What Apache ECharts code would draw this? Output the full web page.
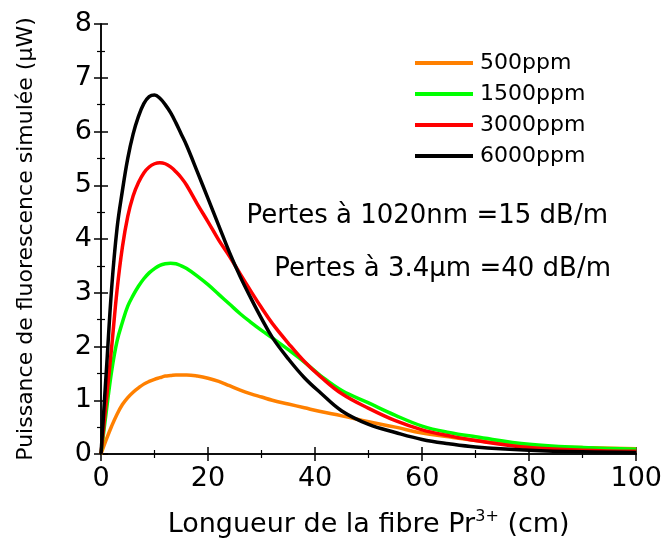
<!DOCTYPE html>
<html>
<head>
<meta charset="utf-8">
<script src="https://cdn.jsdelivr.net/npm/echarts@6/dist/echarts.min.js"></script>
<style>
html, body { margin: 0; padding: 0; background: #fff; }
#chart { width: 665px; height: 543px; }
</style>
</head>
<body>
<div id="chart"></div>
<script>
//longueur de fibre (cm)
var xs = [0, 1, 2, 3, 4, 5, 6, 7, 8, 9, 10, 11, 12, 13, 14, 15, 16, 18, 20, 22, 24, 26, 28, 30, 32, 35, 38, 41, 45, 50, 55, 60, 65, 70, 80, 90, 100];
//puissance (uW) pour chaque concentration
var p500 = [0, 0.27, 0.52, 0.74, 0.92, 1.05, 1.15, 1.23, 1.3, 1.35, 1.39, 1.42, 1.45, 1.46, 1.47, 1.47, 1.47, 1.45, 1.41, 1.35, 1.27, 1.19, 1.12, 1.06, 1.0, 0.93, 0.86, 0.79, 0.71, 0.6, 0.5, 0.39, 0.32, 0.25, 0.15, 0.12, 0.1];
var p1500 = [0, 0.8, 1.55, 2.1, 2.45, 2.75, 2.95, 3.12, 3.26, 3.37, 3.45, 3.51, 3.54, 3.55, 3.54, 3.5, 3.45, 3.31, 3.15, 2.97, 2.79, 2.61, 2.45, 2.3, 2.16, 1.94, 1.71, 1.46, 1.18, 0.95, 0.72, 0.52, 0.4, 0.32, 0.18, 0.12, 0.09];
var p3000 = [0, 1.0, 2.0, 3.05, 3.85, 4.42, 4.8, 5.05, 5.23, 5.34, 5.4, 5.42, 5.4, 5.34, 5.25, 5.14, 5.0, 4.65, 4.32, 3.98, 3.68, 3.35, 3.03, 2.72, 2.43, 2.06, 1.72, 1.44, 1.12, 0.85, 0.62, 0.45, 0.34, 0.25, 0.12, 0.07, 0.05];
var p6000 = [0, 1.55, 3.1, 4.2, 4.9, 5.5, 5.95, 6.28, 6.52, 6.65, 6.68, 6.62, 6.5, 6.35, 6.16, 5.95, 5.74, 5.25, 4.75, 4.25, 3.75, 3.3, 2.9, 2.52, 2.17, 1.77, 1.42, 1.14, 0.8, 0.55, 0.4, 0.27, 0.19, 0.13, 0.07, 0.04, 0.03];
var names = ['500ppm', '1500ppm', '3000ppm', '6000ppm'];
var colors = ['#ff8000', '#00ff00', '#ff0000', '#000000'];

function pairs(ys) {
	var out = [];
	for(var i = 0; i < xs.length; i++) {
		out.push([xs[i], ys[i]]);
	}
	return out
}

var font = 'DejaVu Sans';
var axLine = { show: true, lineStyle: { color: '#000', width: 1.5 } };
var tick = { show: true, inside: true, length: 7, lineStyle: { color: '#000', width: 1.5 } };
var minor = { show: true, splitNumber: 2, length: 4, lineStyle: { color: '#000', width: 1.2 } };

var series = [];
var all = [p500, p1500, p3000, p6000];
for(var k = 0; k < all.length; k++) {
	series.push({
		name: names[k],
		type: 'line',
		data: pairs(all[k]),
		smooth: 0.4,
		showSymbol: false,
		lineStyle: { color: colors[k], width: 3.5 },
		itemStyle: { color: colors[k] }
	});
}

var option = {
	animation: false,
	textStyle: { fontFamily: font },
	grid: { left: 101, right: 28, top: 24, bottom: 87 },
	legend: {
		data: names,
		orient: 'vertical',
		left: 410,
		top: 47,
		itemWidth: 58,
		itemHeight: 4,
		itemGap: 9,
		icon: 'rect',
		textStyle: { fontFamily: font, fontSize: 22, color: '#000', padding: [0, 0, 0, 2] }
	},
	xAxis: [{
		type: 'value', min: 0, max: 100, interval: 20,
		name: '{a|Longueur de la fibre Pr}{s|3+}{a| (cm)}',
		nameLocation: 'middle', nameGap: 55,
		nameTextStyle: {
			rich: {
				a: { fontFamily: font, fontSize: 27, color: '#000' },
				s: { fontFamily: font, fontSize: 16, color: '#000', verticalAlign: 'top', padding: [0, 0, 15, 0] }
			}
		},
		axisLine: axLine, axisTick: tick, minorTick: minor,
		splitLine: { show: false },
		axisLabel: { fontFamily: font, fontSize: 27, color: '#000', margin: 11 }
	}, {
		type: 'value', min: 0, max: 100, interval: 20, position: 'top',
		axisLine: axLine, axisTick: tick, minorTick: minor,
		splitLine: { show: false }, axisLabel: { show: false }
	}],
	yAxis: [{
		type: 'value', min: 0, max: 8, interval: 1,
		name: 'Puissance de fluorescence simulée (µW)',
		nameLocation: 'middle', nameGap: 64,
		nameTextStyle: { fontFamily: font, fontSize: 22, color: '#000' },
		axisLine: axLine, axisTick: tick, minorTick: minor,
		splitLine: { show: false },
		axisLabel: { fontFamily: font, fontSize: 27, color: '#000', margin: 9 }
	}, {
		type: 'value', min: 0, max: 8, interval: 1, position: 'right',
		axisLine: axLine, axisTick: tick, minorTick: minor,
		splitLine: { show: false }, axisLabel: { show: false }
	}],
	//textes des pertes
	graphic: [{
		type: 'text', right: 57, top: 203,
		style: { text: 'Pertes à 1020nm =15 dB/m', font: '26px "DejaVu Sans"', fill: '#000' }
	}, {
		type: 'text', right: 54, top: 256,
		style: { text: 'Pertes à 3.4µm =40 dB/m', font: '26px "DejaVu Sans"', fill: '#000' }
	}],
	series: series
};

var myChart = echarts.init(document.getElementById('chart'));
myChart.setOption(option);
</script>
</body>
</html>
